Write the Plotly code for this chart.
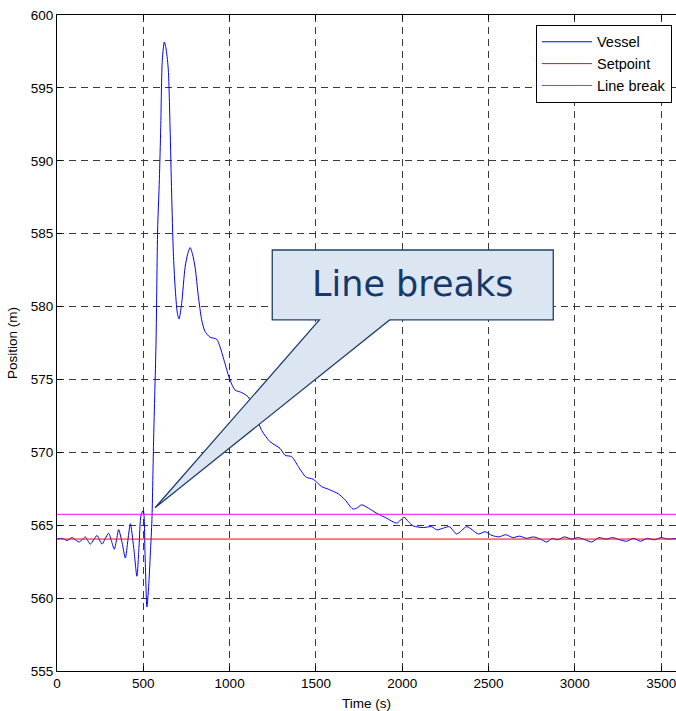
import plotly.graph_objects as go

# Vessel position time series (s, m)
time_s = [0, 20, 39, 58, 87, 107, 126, 145, 164, 178, 193, 212, 232, 246, 261,
          280, 299, 316, 332, 345, 357, 377, 396, 411, 425, 444, 463, 475, 487,
          500, 510, 521, 531, 541, 550, 560, 574, 583, 593, 601, 610, 622, 633,
          645, 655, 664, 674, 684, 697, 707, 722, 742, 757, 771, 785, 800, 819,
          838, 857, 886, 925, 944, 973, 1002, 1031, 1070, 1108, 1147, 1186, 1234,
          1292, 1321, 1360, 1398, 1443, 1485, 1533, 1572, 1630, 1669, 1713, 1736,
          1765, 1804, 1852, 1910, 1968, 2010, 2035, 2064, 2122, 2171, 2200, 2238,
          2273, 2316, 2374, 2441, 2480, 2520, 2560, 2600, 2640, 2680, 2720, 2760,
          2800, 2837, 2870, 2900, 2940, 2980, 3020, 3060, 3098, 3140, 3180, 3220,
          3260, 3300, 3340, 3380, 3420, 3460, 3500, 3540, 3590]
position_m = [564.05, 564.1, 564.06, 563.95, 564.15, 564.0, 563.85, 564.0, 564.2,
              563.95, 563.7, 564.0, 564.3, 564.0, 563.7, 564.1, 564.45, 563.9,
              563.35, 564.0, 564.7, 563.8, 562.75, 564.0, 565.1, 563.5, 561.5,
              563.5, 565.7, 566.0, 563.0, 559.4, 560.8, 563.1, 565.4, 571.0, 577.7,
              585.25, 588.7, 592.3, 596.9, 598.15, 597.6, 596.2, 592.3, 587.8, 583.7,
              581.4, 579.56, 579.15, 580.2, 582.7, 583.6, 584.05, 583.6, 582.7, 580.7,
              579.1, 578.3, 577.9, 577.76, 577.25, 576.1, 574.97, 574.28, 574.1,
              573.8, 572.68, 571.5, 570.73, 570.27, 569.8, 569.7, 569.02, 568.3,
              568.15, 567.65, 567.47, 567.15, 566.74, 566.12, 566.17, 566.4, 566.17,
              565.82, 565.48, 565.14, 565.55, 565.25, 564.95, 564.84, 564.9, 564.68,
              564.8, 564.9, 564.4, 564.9, 564.4, 564.55, 564.3, 564.2, 564.35, 564.15,
              564.25, 564.1, 564.2, 564.05, 563.85, 564.1, 564.0, 564.2, 564.05,
              564.15, 564.0, 563.85, 564.15, 564.05, 564.15, 564.0, 563.9, 564.1,
              563.9, 564.1, 564.0, 564.15, 564.05, 564.1]

setpoint_m = 564.05
line_break_m = 565.75
x_range = [0, 3586]
y_range = [555, 600]
x_ticks = [0, 500, 1000, 1500, 2000, 2500, 3000, 3500]
y_ticks = [555, 560, 565, 570, 575, 580, 585, 590, 595, 600]

# Callout outline in data coordinates: box plus pointer to the break event
box_x0, box_x1 = 1247, 2875
box_y0, box_y1 = 579.08, 583.88
ptr_left, ptr_right = 1520, 1927
ptr_tip = (568, 566.2)

fig = go.Figure()
fig.add_trace(go.Scatter(x=time_s, y=position_m, mode="lines", name="Vessel",
                         line=dict(color="#0000ff", width=1, shape="spline",
                                   smoothing=0.7),
                         legendgroup="a"))
fig.add_trace(go.Scatter(x=x_range, y=[setpoint_m, setpoint_m], mode="lines",
                         name="Setpoint", line=dict(color="#ff0000", width=1),
                         legendgroup="b"))
fig.add_trace(go.Scatter(x=x_range, y=[line_break_m, line_break_m], mode="lines",
                         name="Line break", line=dict(color="#ff00ff", width=1),
                         legendgroup="c"))

path = (f"M {box_x0},{box_y1} L {box_x1},{box_y1} L {box_x1},{box_y0} "
        f"L {ptr_right},{box_y0} L {ptr_tip[0]},{ptr_tip[1]} L {ptr_left},{box_y0} "
        f"L {box_x0},{box_y0} Z")
fig.add_shape(type="path", path=path, xref="x", yref="y",
              fillcolor="#dce6f2", line=dict(color="#1f3f6e", width=1.3),
              layer="above")
fig.add_annotation(x=(box_x0 + box_x1) / 2, y=(box_y0 + box_y1) / 2 + 0.1,
                   text="Line breaks", showarrow=False,
                   font=dict(family="DejaVu Sans", size=35, color="#17386b"))

axis_font = dict(family="Liberation Sans, Arial", size=13.5, color="#000000")
grid_common = dict(showgrid=True, gridcolor="#3a3a3a", gridwidth=1,
                   griddash="7px,5px", zeroline=False, showline=True,
                   linecolor="#000000", linewidth=1, ticks="inside", ticklen=5,
                   tickcolor="#000000", tickfont=axis_font,
                   ticklabeloverflow="allow")

fig.update_layout(
    width=676, height=711,
    margin=dict(l=57, r=0, t=15, b=40),
    paper_bgcolor="#ffffff", plot_bgcolor="#ffffff",
    xaxis=dict(range=x_range, tickvals=x_ticks, mirror="ticks",
               title=dict(text="Time (s)", font=axis_font, standoff=8),
               **grid_common),
    yaxis=dict(range=y_range, tickvals=y_ticks, mirror=False,
               title=dict(text="Position (m)", font=axis_font, standoff=10),
               **grid_common),
    legend=dict(x=0.9935, y=0.985, xanchor="right", yanchor="top",
                bgcolor="#ffffff", bordercolor="#000000", borderwidth=1,
                font=dict(family="Liberation Sans, Arial", size=14.5,
                          color="#000000"),
                itemwidth=50, tracegroupgap=0),
    showlegend=True,
)

fig.write_html("out.html")
